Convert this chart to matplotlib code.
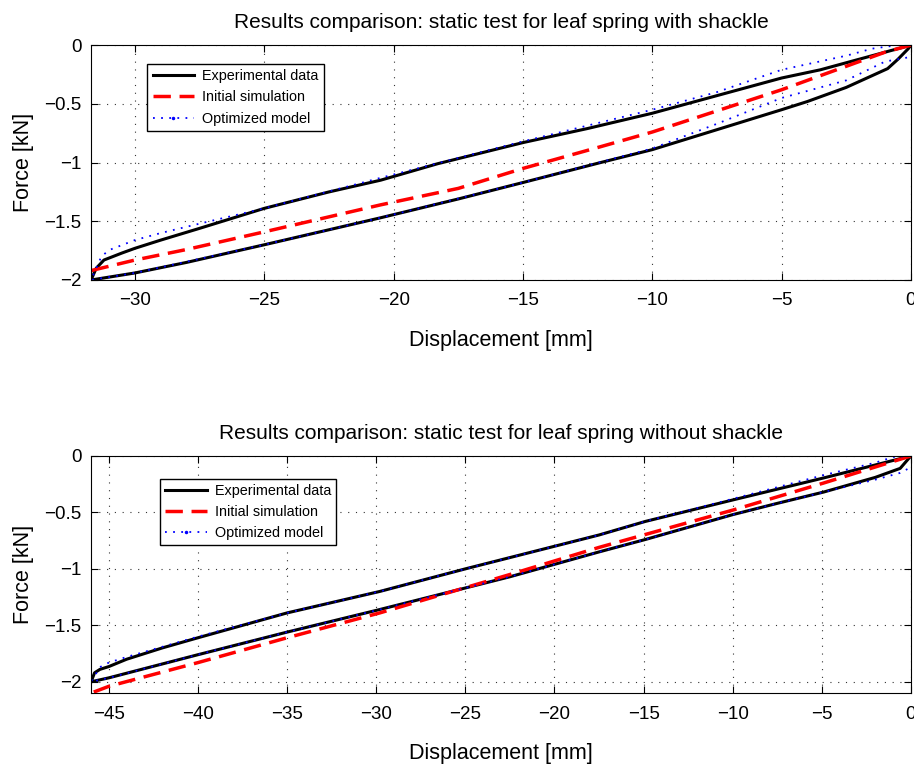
import matplotlib.pyplot as plt
from matplotlib.lines import Line2D

# --- top: leaf spring with shackle ---
top_exp_x = [0, -0.1, -0.5, -0.9, -1.5, -2.5, -4, -5, -7.5, -10, -12, -15, -17.5, -20.5, -25, -28, -30, -31.7,
             -31.5, -31.2, -30.5, -30, -29, -27.5, -25, -22.5, -20.5, -18.3, -15, -12.5, -10, -7.5, -5, -3.5, -2, -1, 0]
top_exp_y = [0, -0.03, -0.12, -0.20, -0.26, -0.36, -0.48, -0.55, -0.72, -0.89, -1.0, -1.17, -1.31, -1.47, -1.70, -1.85, -1.94, -2.0,
             -1.90, -1.83, -1.77, -1.73, -1.66, -1.56, -1.39, -1.25, -1.15, -1.01, -0.83, -0.71, -0.58, -0.43, -0.28, -0.21, -0.12, -0.06, 0]

top_init_x = [0, -1, -2.5, -5, -7.5, -10, -12, -15, -17.5, -20.5, -25, -28, -30, -31.7]
top_init_y = [0, -0.06, -0.18, -0.38, -0.56, -0.74, -0.865, -1.05, -1.22, -1.36, -1.59, -1.74, -1.83, -1.92]

top_opt_x = [0.2, 0, -0.5, -1, -2.5, -5, -7.5, -10, -15, -20.5, -25, -30, -31.7,
             -31.3, -31, -30, -29, -27.5, -25, -20.5, -15, -10, -7.5, -5, -2.5, -1.5, -0.5, 0]
top_opt_y = [-0.09, -0.10, -0.12, -0.14, -0.30, -0.45, -0.67, -0.88, -1.17, -1.47, -1.70, -1.94, -2.0,
             -1.80, -1.745, -1.66, -1.60, -1.52, -1.39, -1.13, -0.82, -0.55, -0.40, -0.21, -0.09, -0.03, 0.0, 0.0]

# --- bottom: leaf spring without shackle ---
bot_exp_x = [0, -0.6, -2, -4.9, -7.5, -10, -14.9, -17.5, -22.5, -29.8, -35, -40, -45, -46,
             -45.8, -45.5, -45, -44, -42, -40, -35, -29.8, -25, -17.5, -14.9, -10, -4.9, -2, 0]
bot_exp_y = [0, -0.11, -0.19, -0.32, -0.42, -0.52, -0.74, -0.85, -1.07, -1.36, -1.56, -1.76, -1.965, -2.0,
             -1.92, -1.89, -1.865, -1.80, -1.70, -1.61, -1.39, -1.20, -1.00, -0.70, -0.58, -0.39, -0.195, -0.08, 0]

bot_init_x = [0, -4.9, -10, -17.5, -22.5, -29.8, -35, -40, -45, -46]
bot_init_y = [0, -0.24, -0.48, -0.81, -1.05, -1.39, -1.61, -1.83, -2.04, -2.1]

bot_opt_x = [0.3, 0, -0.6, -2, -4.9, -7.5, -10, -14.9, -17.5, -22.5, -29.8, -35, -40, -45, -46,
             -45.5, -45, -44, -42, -40, -35, -29.8, -25, -17.5, -14.9, -10, -4.9, -2, -1, 0]
bot_opt_y = [-0.09, -0.10, -0.15, -0.21, -0.32, -0.42, -0.52, -0.74, -0.85, -1.07, -1.36, -1.56, -1.76, -1.965, -2.0,
             -1.87, -1.83, -1.78, -1.69, -1.60, -1.39, -1.20, -1.00, -0.70, -0.58, -0.38, -0.17, -0.06, -0.01, 0]

plt.rcParams['font.family'] = ['Liberation Sans', 'DejaVu Sans']

fig = plt.figure(figsize=(9.14, 7.65), dpi=100)
ax1 = fig.add_axes([0.0996, 0.634, 0.897, 0.307])
ax2 = fig.add_axes([0.0996, 0.094, 0.897, 0.310])

RED_DASH = (0, (5, 2.5))
BLUE_DOT = (0, (1, 3.5))


def draw(ax, ex, ey, ix, iy, ox, oy, xmin, ymin, xticks, title, leg_pos, title_pad):
    ax.plot(ex, ey, color='black', lw=2.2)
    ax.plot(ix, iy, color='red', lw=2.5, linestyle=RED_DASH)
    ax.plot(ox, oy, color='blue', lw=1.3, linestyle=BLUE_DOT)
    ax.set_xlim(xmin, 0)
    ax.set_ylim(ymin, 0)
    ax.set_xticks(xticks)
    ax.set_yticks([-2, -1.5, -1, -0.5, 0])
    ax.set_yticklabels(['\u22122', '\u22121.5', '\u22121', '\u22120.5', '0'])
    ax.set_xticklabels(['\u2212%d' % -t if t < 0 else '0' for t in xticks])
    ax.grid(True, linestyle=(0, (1, 6)), color='#333333', lw=0.8)
    ax.tick_params(direction='in', top=True, right=True, labelsize=13.5, length=5, pad=7)
    ax.tick_params(axis='x', pad=9)
    ax.set_xlabel('Displacement [mm]', fontsize=15.5, labelpad=15)
    ax.set_ylabel('Force [kN]', fontsize=15.5, labelpad=7)
    ax.set_title(title, fontsize=15, pad=title_pad)
    handles = [Line2D([], [], color='black', lw=2.2),
               Line2D([], [], color='red', lw=2.5, linestyle=RED_DASH),
               Line2D([], [], color='blue', lw=1.3, linestyle=BLUE_DOT,
                      marker='.', markersize=3)]
    leg = ax.legend(handles, ['Experimental data', 'Initial simulation', 'Optimized model'],
                    loc='upper left', bbox_to_anchor=leg_pos, fontsize=10.4,
                    fancybox=False, edgecolor='black', framealpha=1,
                    handlelength=2.9, borderpad=0.35, labelspacing=0.5, handletextpad=0.55)
    leg.get_frame().set_linewidth(1.0)


draw(ax1, top_exp_x, top_exp_y, top_init_x, top_init_y, top_opt_x, top_opt_y,
     -31.7, -2, [-30, -25, -20, -15, -10, -5, 0],
     'Results comparison: static test for leaf spring with shackle', (0.06, 0.95), 12)
draw(ax2, bot_exp_x, bot_exp_y, bot_init_x, bot_init_y, bot_opt_x, bot_opt_y,
     -46, -2.1, [-45, -40, -35, -30, -25, -20, -15, -10, -5, 0],
     'Results comparison: static test for leaf spring without shackle', (0.075, 0.935), 12)

fig.savefig('out.png', dpi=100)
